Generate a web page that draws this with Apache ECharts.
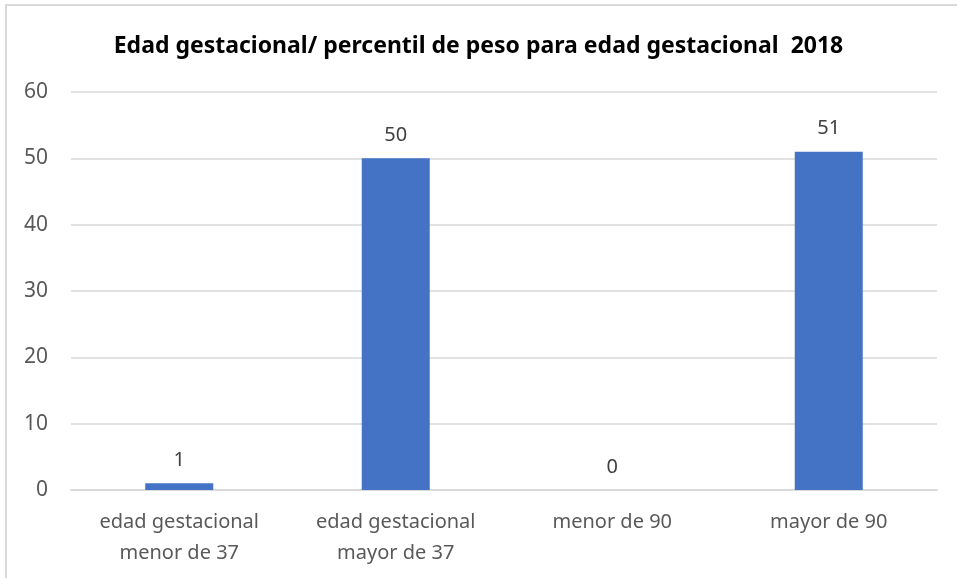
<!DOCTYPE html>
<html>
<head>
<meta charset="utf-8">
<script src="https://cdn.jsdelivr.net/npm/echarts@6/dist/echarts.min.js"></script>
<style>
  html, body { margin: 0; padding: 0; background: #fff; }
  #chart { width: 957px; height: 578px; }
</style>
</head>
<body>
<div id="chart"></div>
<script>
// datos
var categories = ['edad gestacional\nmenor de 37', 'edad gestacional\nmayor de 37', 'menor de 90', 'mayor de 90'];
var values = [1, 50, 0, 51];
var yTicks = { min: 0, max: 60, interval: 10 };

var chart = echarts.init(document.getElementById('chart'));

var option = {
  animation: false,
  backgroundColor: '#fff',
  title: {
    text: 'Edad gestacional/ percentil de peso para edad gestacional  2018',
    left: 'center',
    top: 30,
    textStyle: {
      fontFamily: 'Noto Sans',
      fontWeight: 'bold',
      fontSize: 23,
      color: '#000'
    }
  },
  graphic: [{
    type: 'rect',
    shape: { x: 6, y: 5, width: 1000, height: 700 },
    style: { fill: 'none', stroke: '#d9d9d9', lineWidth: 2 },
    silent: true
  }],
  grid: { left: 71, right: 20, top: 92, bottom: 88 },
  xAxis: {
    type: 'category',
    data: categories,
    axisLine: { lineStyle: { color: '#d9d9d9', width: 2 } },
    axisTick: { show: false },
    axisLabel: {
      interval: 0,
      margin: 17,
      color: '#595959',
      fontFamily: 'Noto Sans',
      fontSize: 20,
      lineHeight: 31
    }
  },
  yAxis: {
    type: 'value',
    min: yTicks.min,
    max: yTicks.max,
    interval: yTicks.interval,
    axisLine: { show: false },
    axisTick: { show: false },
    axisLabel: {
      margin: 23,
      color: '#595959',
      fontFamily: 'Noto Sans',
      fontSize: 21
    },
    splitLine: { lineStyle: { color: '#d9d9d9', width: 1.5 } }
  },
  series: [{
    type: 'bar',
    data: values,
    barWidth: 68,
    itemStyle: { color: '#4472c4' },
    label: {
      show: true,
      position: 'top',
      distance: 13,
      color: '#404040',
      fontFamily: 'Noto Sans',
      fontSize: 20
    }
  }]
};

chart.setOption(option);
</script>
</body>
</html>
